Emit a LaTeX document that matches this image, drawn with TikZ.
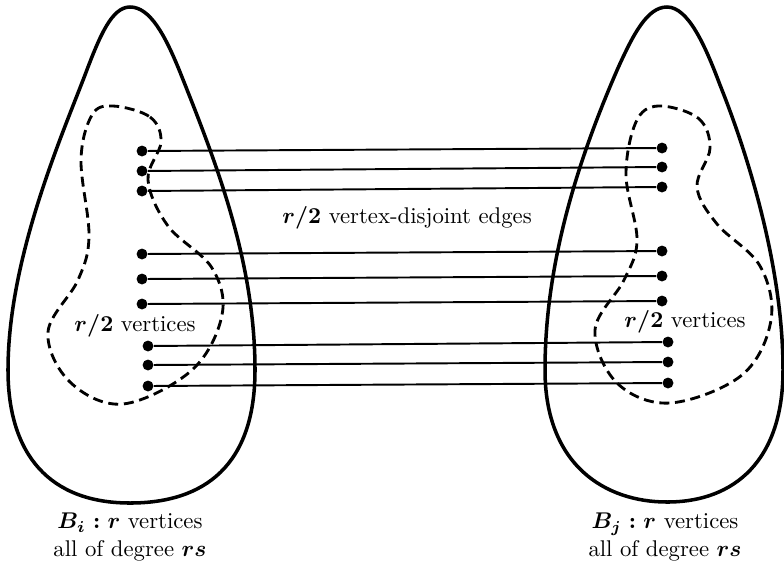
\documentclass[tikz,border=0pt]{standalone}
\usepackage{amsmath}
\tikzset{
  blob/.style={line width=1.55pt},
  region/.style={line width=1.25pt, dash pattern=on 4.4pt off 2.5pt},
  dot/.style={circle, fill, inner sep=0pt, minimum size=4.8pt},
  edge/.style={line width=0.85pt},
  lbl/.style={align=center, inner sep=0pt}
}
\begin{document}
\begin{tikzpicture}[x=0.44pt, y=-0.44pt]
\useasboundingbox (0,0) rectangle (784,568);

\begin{scope}
\draw[blob] (130,7) .. controls (150,7) and (165,35) .. (180,72)
  .. controls (215,160) and (255,260) .. (255,370)
  .. controls (255,465) and (205,503) .. (130,503)
  .. controls (50,503) and (8,455) .. (8,370)
  .. controls (8,260) and (60,140) .. (85,75)
  .. controls (100,35) and (112,7) .. (130,7) -- cycle ;
\draw[region] plot[smooth cycle, tension=0.6] coordinates {
  (113,106) (150,117) (161,142) (148,180) (168,226) (212,268)
  (222,315) (192,370) (123,404) (70,382) (48,332) (78,280)
  (89,236) (81,160) (92,115)} ;
\node[lbl] (Ai) at (135,326) {{\boldmath$r/2$} vertices} ;
\node[lbl] (Bi) at (130,537) {{\boldmath$B_i : r$} vertices\\all of degree {\boldmath$rs$}} ;
\end{scope}

\begin{scope}
\draw[blob] (667,7) .. controls (647,7) and (633,35) .. (618,68)
  .. controls (580,155) and (545,260) .. (545,370)
  .. controls (545,465) and (605,502) .. (667,502)
  .. controls (735,502) and (783,460) .. (783,370)
  .. controls (783,270) and (750,160) .. (720,85)
  .. controls (705,45) and (688,7) .. (667,7) -- cycle ;
\draw[region] plot[smooth cycle, tension=0.6] coordinates {
  (658,106) (698,118) (710,148) (697,187) (717,224) (760,266)
  (771,320) (742,375) (670,403) (617,383) (595,330) (624,280)
  (637,240) (626,175) (636,122)} ;
\node[lbl] (Aj) at (685,322) {{\boldmath$r/2$} vertices} ;
\node[lbl] (Bj) at (665,537) {{\boldmath$B_j : r$} vertices\\all of degree {\boldmath$rs$}} ;
\end{scope}

\node[lbl] (M) at (407,218) {{\boldmath$r/2$} vertex-disjoint edges} ;

\node[dot] (l1) at (142,151) {} ;
\node[dot] (l2) at (142,171) {} ;
\node[dot] (l3) at (142,191) {} ;
\node[dot] (l4) at (142,254) {} ;
\node[dot] (l5) at (142,279) {} ;
\node[dot] (l6) at (142,304) {} ;
\node[dot] (l7) at (148,346) {} ;
\node[dot] (l8) at (148,365) {} ;
\node[dot] (l9) at (148,386) {} ;

\node[dot] (r1) at (662,148) {} ;
\node[dot] (r2) at (662,167) {} ;
\node[dot] (r3) at (662,187) {} ;
\node[dot] (r4) at (662,251) {} ;
\node[dot] (r5) at (662,276) {} ;
\node[dot] (r6) at (662,301) {} ;
\node[dot] (r7) at (668,342) {} ;
\node[dot] (r8) at (668,362) {} ;
\node[dot] (r9) at (668,383) {} ;

\draw[edge] (l1) -- (r1) ;
\draw[edge] (l2) -- (r2) ;
\draw[edge] (l3) -- (r3) ;
\draw[edge] (l4) -- (r4) ;
\draw[edge] (l5) -- (r5) ;
\draw[edge] (l6) -- (r6) ;
\draw[edge] (l7) -- (r7) ;
\draw[edge] (l8) -- (r8) ;
\draw[edge] (l9) -- (r9) ;
\end{tikzpicture}
\end{document}
